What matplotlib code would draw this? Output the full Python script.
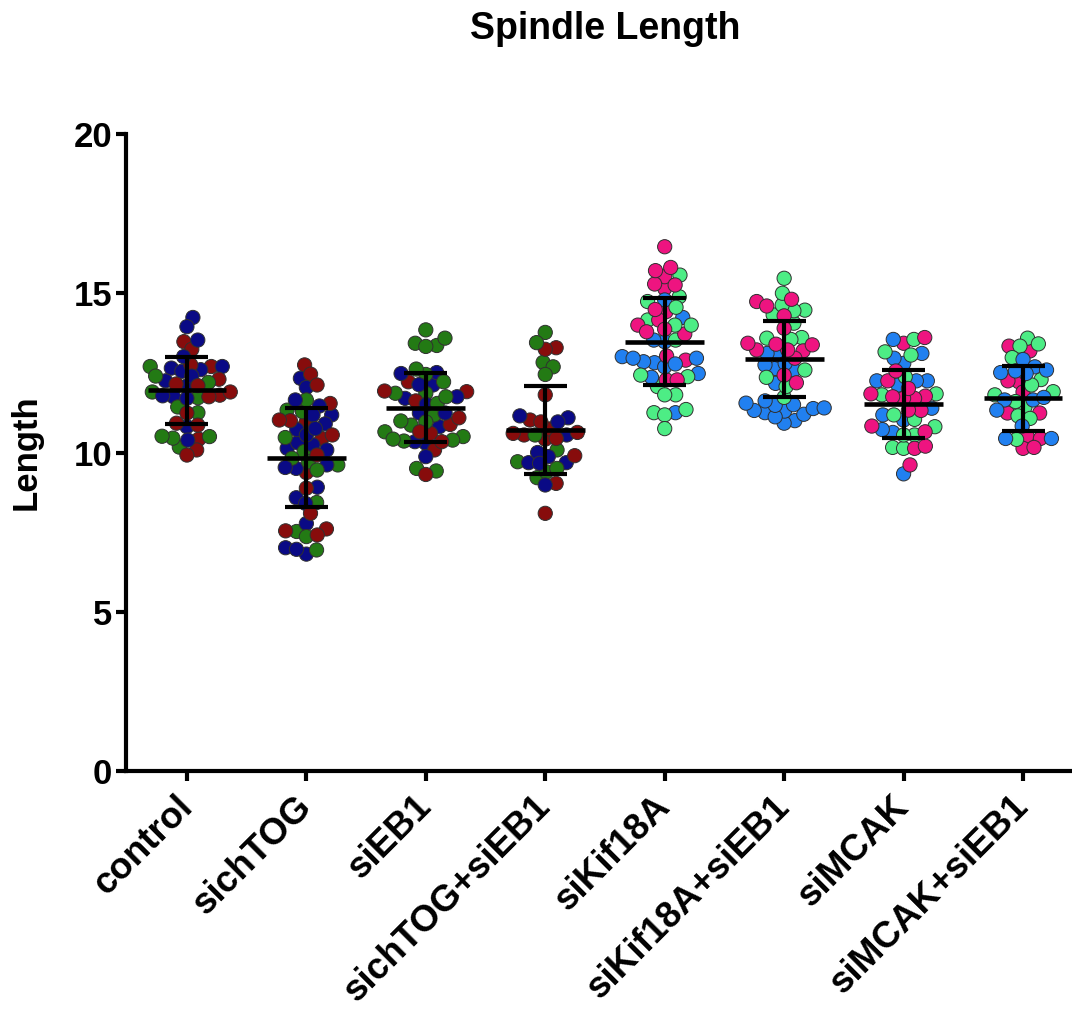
import matplotlib.pyplot as plt
import matplotlib.transforms as mtransforms
import numpy as np

plt.rcParams['font.family'] = ['Liberation Sans', 'DejaVu Sans']
plt.rcParams['font.weight'] = 'bold'

groups = ['control', 'sichTOG', 'siEB1', 'sichTOG+siEB1',
          'siKif18A', 'siKif18A+siEB1', 'siMCAK', 'siMCAK+siEB1']

# replicate a / b / c for every group
control_a = [13.48, 13.24, 12.7, 12.75, 12.3, 12.15, 12.1, 11.8, 11.9, 11.75, 11.24, 10.92, 10.86, 10.42, 10.08, 9.92]
control_b = [12.7, 12.4, 12.2, 11.72, 11.43, 11.25, 10.50, 10.45, 10.51, 10.17, 11.9]
control_c = [14.24, 13.95, 13.53, 13.01, 12.65, 12.55, 12.6, 12.7, 12.25, 12.4, 12.09, 11.75, 11.7, 11.78, 10.81, 10.39]

chtog_a = [12.75, 12.46, 12.12, 11.54, 11.02, 10.92, 11.0, 10.55, 10.44, 9.92, 9.37, 8.88, 8.09, 7.60, 7.41, 7.54]
chtog_b = [11.65, 11.33, 11.28, 10.47, 10.03, 9.82, 9.61, 9.71, 9.45, 8.43, 7.36, 7.52, 6.94]
chtog_c = [12.33, 12.04, 11.65, 11.46, 11.18, 11.18, 10.9, 10.75, 10.72, 10.55, 10.31, 10.24, 10.13, 10.08,
           9.53, 9.50, 9.61, 8.91, 8.58, 8.40, 7.77, 6.96, 6.81, 7.01]

eb1_a = [12.22, 11.91, 11.93, 11.62, 11.09, 10.88, 10.65, 10.60, 10.34, 10.08, 9.31]
eb1_b = [13.85, 13.59, 13.36, 13.33, 13.43, 12.62, 12.45, 12.22, 11.86, 11.75, 11.86, 11.54, 11.18, 10.99,
         10.86, 10.96, 10.65, 10.42, 10.39, 10.36, 9.50, 9.42, 10.5]
eb1_c = [12.48, 12.51, 12.13, 12.12, 11.75, 11.70, 11.51, 11.24, 11.24, 10.81, 10.34, 10.29, 9.87]

chtog_eb1_a = [13.29, 13.24, 11.81, 10.96, 11.02, 10.74, 10.60, 10.44, 10.42, 10.55, 10.63, 9.90, 9.03, 8.09]
chtog_eb1_b = [13.77, 13.45, 12.83, 12.69, 12.45, 10.55, 10.08, 9.71, 9.39, 9.50, 9.21]
chtog_eb1_c = [11.09, 10.96, 11.15, 10.55, 9.68, 9.68, 9.66, 9.87, 10.0, 8.98]

kif_a = [16.46, 15.81, 15.52, 15.71, 15.29, 15.15, 15.26, 14.42, 14.49, 14.16, 14.0, 13.87, 13.72, 13.79,
         13.03, 12.90, 12.28, 12.28]
kif_b = [15.57, 14.89, 14.74, 14.56, 14.0, 14.16, 14.0, 13.53, 12.43, 12.38, 12.07, 11.81, 11.81, 11.35,
         11.18, 11.25, 10.75]
kif_c = [14.79, 14.24, 13.53, 13.48, 13.01, 12.96, 12.82, 12.78, 12.85, 12.96, 12.69, 12.48, 12.36, 11.25]

kif_eb1_a = [14.74, 14.81, 14.6, 14.29, 13.90, 13.43, 13.38, 13.40, 13.22, 12.96, 13.19, 13.22, 12.43, 12.19]
kif_eb1_b = [15.47, 15.0, 14.63, 14.45, 14.47, 14.32, 14.06, 13.59, 13.55, 13.61, 12.59, 12.36, 12.07, 11.73]
kif_eb1_c = [13.11, 12.80, 12.75, 13.06, 12.64, 12.59, 12.17, 11.55, 11.4, 11.62, 11.48, 11.32, 11.38, 11.5,
             11.2, 11.12, 11.25, 11.3, 10.92, 11.0]

mcak_a = [13.43, 13.61, 12.56, 12.25, 12.01, 11.75, 11.70, 11.70, 11.77, 11.84, 11.33, 11.32, 10.83, 10.65,
          10.20, 10.13, 9.61]
mcak_b = [13.55, 13.06, 13.16, 12.38, 11.84, 11.81, 11.04, 11.18, 10.81, 10.55, 10.55, 10.13, 10.16]
mcak_c = [13.55, 13.11, 12.96, 12.80, 12.25, 12.12, 12.25, 12.25, 11.39, 11.18, 11.02, 10.72, 10.63, 9.33]

mcak_eb1_a = [13.34, 13.19, 12.22, 12.25, 11.24, 11.24, 10.52, 10.44, 10.13, 10.16, 11.9]
mcak_eb1_b = [13.59, 13.41, 13.34, 12.98, 12.29, 12.12, 11.91, 11.81, 11.42, 11.15, 11.07, 10.41, 11.6]
mcak_eb1_c = [12.92, 12.69, 12.59, 12.48, 12.56, 12.51, 11.65, 11.73, 11.65, 11.33, 10.83, 10.44, 10.44]

# mean and SD as drawn in the figure
means = [11.96, 9.84, 11.41, 10.71, 13.48, 12.94, 11.52, 11.70]
sds = [1.05, 1.55, 1.08, 1.37, 1.37, 1.19, 1.07, 1.02]

dark = ['#870c0c', '#237a14', '#0a0a85']
bright = ['#ee1480', '#4ded85', '#2180f0']

reps = [
    (control_a, control_b, control_c, dark),
    (chtog_a, chtog_b, chtog_c, dark),
    (eb1_a, eb1_b, eb1_c, dark),
    (chtog_eb1_a, chtog_eb1_b, chtog_eb1_c, dark),
    (kif_a, kif_b, kif_c, bright),
    (kif_eb1_a, kif_eb1_b, kif_eb1_c, bright),
    (mcak_a, mcak_b, mcak_c, bright),
    (mcak_eb1_a, mcak_eb1_b, mcak_eb1_c, bright),
]

W, H = 1072, 1010
ax_left, ax_right, ax_bot, ax_top = 126, 1072, 771, 134
xlo, xhi = -0.51, 7.41
px_x = (ax_right - ax_left) / (xhi - xlo)
px_y = (ax_bot - ax_top) / 20.0


# simple beeswarm in pixel space (d < marker size, so dots overlap a little)
def swarm(vals, d=11.0):
    vals = np.asarray(vals)
    order = np.argsort(vals)
    placed = []
    xs = np.zeros(len(vals))
    for i in order:
        y = vals[i] * px_y
        cands = [0.0]
        for px, py in placed:
            dy = y - py
            if abs(dy) < d:
                dx = np.sqrt(d * d - dy * dy)
                cands += [px + dx, px - dx]
        cands.sort(key=abs)
        for c in cands:
            if all((c - px) ** 2 + (y - py) ** 2 >= d * d - 1e-6 for px, py in placed):
                break
        placed.append((c, y))
        xs[i] = c
    return xs / px_x


fig = plt.figure(figsize=(W / 100, H / 100), dpi=100)
ax = fig.add_axes([ax_left / W, 1 - ax_bot / H, (ax_right - ax_left) / W, (ax_bot - ax_top) / H])

for gi, (a, b, c, pal) in enumerate(reps):
    vals = np.array(a + b + c)
    cols = [pal[0]] * len(a) + [pal[1]] * len(b) + [pal[2]] * len(c)
    xs = swarm(vals)
    # interleave drawing order so no replicate sits fully on top
    idx = np.argsort((np.arange(len(vals)) * 7919) % len(vals))
    ax.scatter(gi + xs[idx], vals[idx], s=105, c=[cols[k] for k in idx],
               edgecolors='#303030', linewidths=0.7, zorder=3, clip_on=False)

for gi in range(len(groups)):
    m, s = means[gi], sds[gi]
    ax.hlines(m, gi - 0.33, gi + 0.33, colors='k', lw=3.3, zorder=5)
    ax.vlines(gi, m - s, m + s, colors='k', lw=3.0, zorder=5)
    ax.hlines([m - s, m + s], gi - 0.18, gi + 0.18, colors='k', lw=3.0, zorder=5)

ax.set_xlim(xlo, xhi)
ax.set_ylim(0, 20)
ax.set_yticks([0, 5, 10, 15, 20])
ax.set_xticks(range(len(groups)))
ax.set_xticklabels([])

# rotated group names, placed by hand below the ticks
lab_trans = ax.get_xaxis_transform() + mtransforms.ScaledTranslation(-0.12, -0.18, fig.dpi_scale_trans)
for gi, name in enumerate(groups):
    ax.text(gi, 0, name, transform=lab_trans, rotation=45, ha='right', va='top',
            rotation_mode='anchor', fontsize=26.5, fontweight='bold')

for side in ['top', 'right']:
    ax.spines[side].set_visible(False)
for side in ['left', 'bottom']:
    ax.spines[side].set_linewidth(3)
ax.tick_params(axis='both', direction='out', length=7, width=3, pad=3)
ax.tick_params(axis='y', labelsize=25)

ax.set_ylabel('Length', fontsize=25, fontweight='bold')
ax.yaxis.set_label_coords((43 - ax_left) / (ax_right - ax_left), 0.5)

fig.text(605 / W, 1 - 29 / H, 'Spindle Length', ha='center', va='center',
         fontsize=27, fontweight='bold')

fig.savefig('out.png', dpi=100)
